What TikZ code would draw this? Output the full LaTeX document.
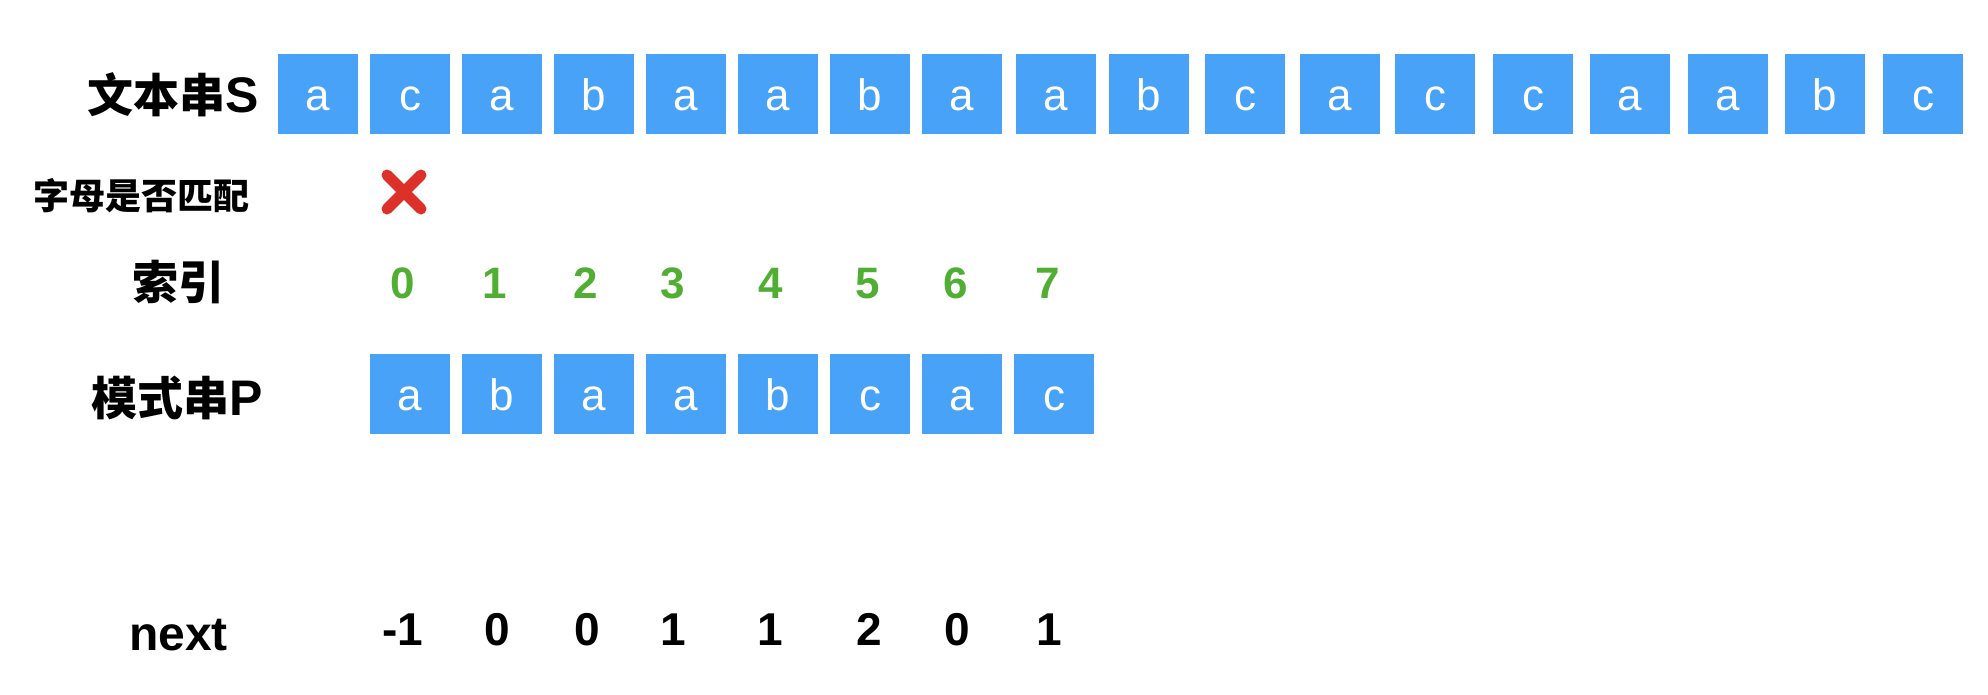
\documentclass[tikz,border=0pt]{standalone}
\usepackage{fontspec}
\setmainfont{Liberation Sans}
\newfontfamily\cjk{Noto Sans CJK SC}
\usepackage{tikz}

\definecolor{cellblue}{RGB}{72,162,248}
\definecolor{idxgreen}{RGB}{80,174,50}
\definecolor{crossred}{RGB}{220,48,40}

\begin{document}
\begin{tikzpicture}[x=1pt, y=-1pt,
  cell/.style={fill=cellblue, anchor=north west, minimum width=80pt, minimum height=80pt, inner sep=0pt, text height=33pt, text depth=0pt, text=white, font=\fontsize{44}{44}\selectfont},
  rowlabel/.style={anchor=base west, inner sep=0pt, font=\cjk\bfseries\fontsize{46}{46}\selectfont},
  idx/.style={anchor=base, inner sep=0pt, text=idxgreen, font=\bfseries\fontsize{44}{44}\selectfont},
  nextval/.style={anchor=base, inner sep=0pt, font=\bfseries\fontsize{46}{46}\selectfont}]
\useasboundingbox (0,0) rectangle (1988,694);

\node[rowlabel] (textlabel) at (87,112) {文本串{\fontspec{Liberation Sans}\bfseries\fontsize{50}{50}\selectfont S}};
\foreach \x/\c [count=\i from 0] in {278/a,370/c,462/a,554/b,646/a,738/a,830/b,922/a,1016/a,1109/b,1205/c,1300/a,1395/c,1493/c,1590/a,1688/a,1785/b,1883/c}
  \node[cell] (s\i) at (\x,54) {\c};

\node[rowlabel, font=\cjk\bfseries\fontsize{36}{36}\selectfont] (matchlabel) at (33,209) {字母是否匹配};
\draw[crossred, line width=11pt, line cap=round] (387,175) -- (421,209) (387,209) -- (421,175);

\node[rowlabel] (idxlabel) at (132,299) {索引};
\foreach \x/\d [count=\i from 0] in {403/0,495/1,586/2,673/3,771/4,868/5,956/6,1048/7}
  \node[idx] (i\i) at (\x,298) {\d};

\node[rowlabel] (patlabel) at (91,415) {模式串{\fontspec{Liberation Sans}\bfseries\fontsize{50}{50}\selectfont P}};
\foreach \c [count=\i from 0] in {a,b,a,a,b,c,a,c}
  \node[cell] (p\i) at (370+92*\i,354) {\c};

\node[rowlabel, font=\bfseries\fontsize{48}{48}\selectfont] (nextlabel) at (129,650) {next};
\foreach \x/\d [count=\i from 0] in {403/-1,497/0,587/0,673/1,770/1,869/2,957/0,1049/1}
  \node[nextval] (n\i) at (\x,645) {\d};
\end{tikzpicture}
\end{document}
